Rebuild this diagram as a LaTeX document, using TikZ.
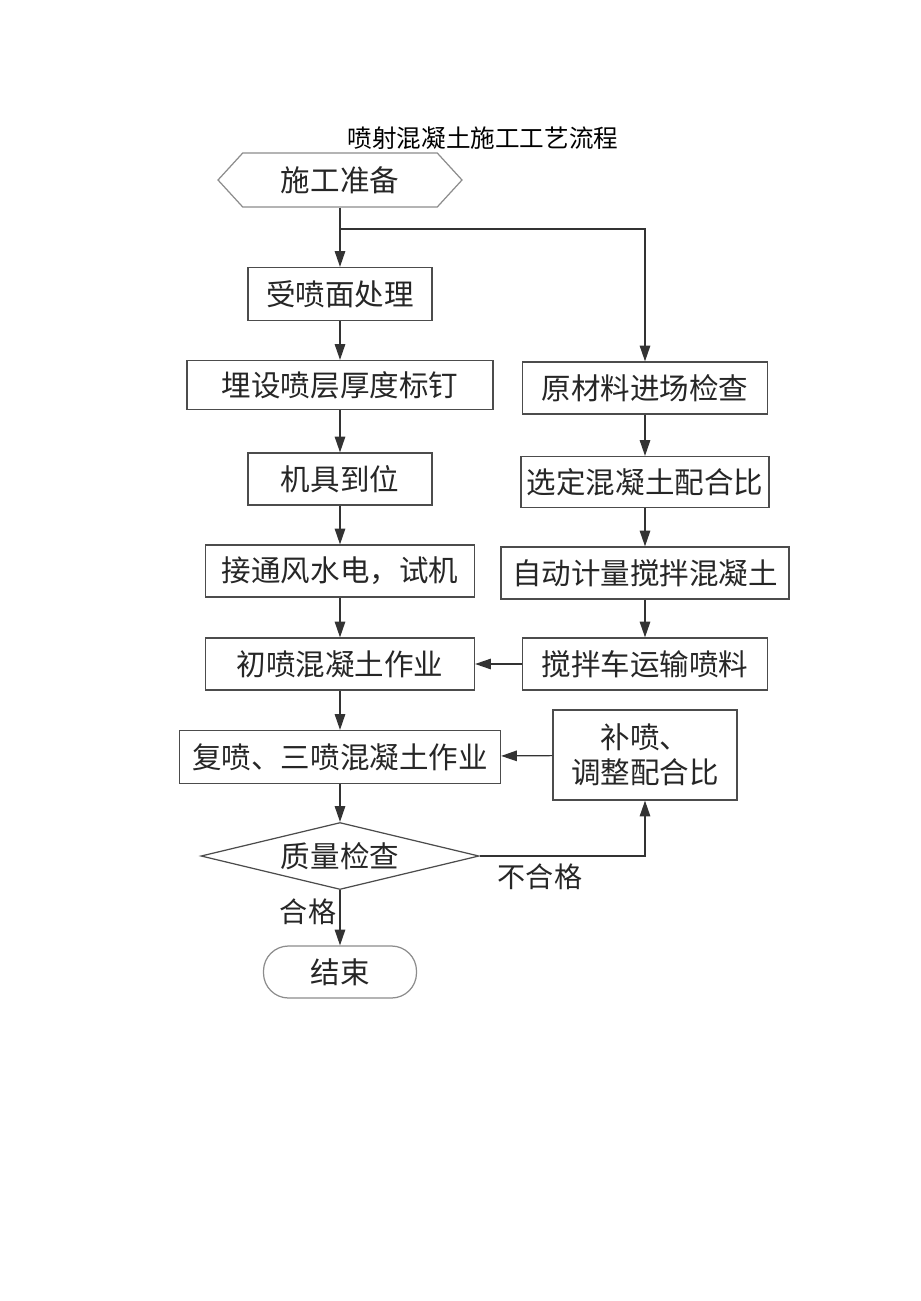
\documentclass[tikz,border=0pt]{standalone}
\usepackage{fontspec}
\setmainfont{Noto Sans CJK SC}
\usepackage{tikz}
\usetikzlibrary{arrows.meta,shapes.geometric,shapes.symbols,shapes.misc}

\begin{document}
\begin{tikzpicture}[x=0.02cm,y=-0.02cm,
  box/.style={draw=black!70,line width=0.7pt,rectangle,inner sep=0pt,
    font=\fontsize{16.8pt}{20pt}\selectfont,text=black!85},
  arr/.style={draw=black!80,line width=0.7pt,-{Triangle[length=9pt,width=6pt]}},
  lbl/.style={inner sep=0pt,font=\fontsize{16pt}{19pt}\selectfont,text=black!85}]
  \useasboundingbox (0,0) rectangle (920,1301);
  % title
  \node[inner sep=0pt,font=\fontsize{14pt}{17pt}\selectfont] (title) at (483,138) {喷射混凝土施工工艺流程};
  % left column
  \node[box,draw=black!45,signal,signal to=west and east,signal pointer angle=95,
    minimum width=244*0.02cm,minimum height=54*0.02cm] (prep) at (340,180) {施工准备};
  \node[box,minimum width=184*0.02cm,minimum height=53*0.02cm] (surf) at (340,294) {受喷面处理};
  \node[box,minimum width=306*0.02cm,minimum height=49*0.02cm] (nail) at (340,385) {埋设喷层厚度标钉};
  \node[box,minimum width=184*0.02cm,minimum height=52*0.02cm] (mach) at (340,479) {机具到位};
  \node[box,minimum width=269*0.02cm,minimum height=52*0.02cm] (power) at (340,571) {接通风水电，试机};
  \node[box,minimum width=269*0.02cm,minimum height=52*0.02cm] (first) at (340,664) {初喷混凝土作业};
  \node[box,minimum width=321*0.02cm,minimum height=53*0.02cm] (again) at (340,757) {复喷、三喷混凝土作业};
  \node[box,diamond,aspect=4.15,minimum width=278*0.02cm,minimum height=67*0.02cm] (check) at (340,856) {质量检查};
  \node[box,draw=black!45,rounded corners=25*0.02cm,minimum width=153*0.02cm,
    minimum height=52*0.02cm] (end) at (340,972) {结束};
  % right column
  \node[box,minimum width=245*0.02cm,minimum height=52*0.02cm] (raw) at (645,388) {原材料进场检查};
  \node[box,minimum width=248*0.02cm,minimum height=51*0.02cm] (mix) at (645,482) {选定混凝土配合比};
  \node[box,minimum width=288*0.02cm,minimum height=52*0.02cm] (auto) at (645,573) {自动计量搅拌混凝土};
  \node[box,minimum width=245*0.02cm,minimum height=52*0.02cm] (truck) at (645,664) {搅拌车运输喷料};
  \node[box,align=center,minimum width=184*0.02cm,minimum height=90*0.02cm] (fix) at (645,755) {补喷、\\调整配合比};
  % branch point
  \coordinate (split) at (340,229);
  \draw[draw=black!80,line width=0.7pt] (prep.south) -- (split);
  \draw[arr] (split) -- (surf.north);
  \draw[arr] (split) -| (raw.north);
  % main flow
  \draw[arr] (surf) -- (nail);
  \draw[arr] (nail) -- (mach);
  \draw[arr] (mach) -- (power);
  \draw[arr] (power) -- (first);
  \draw[arr] (first) -- (again);
  \draw[arr] (again) -- (check.north);
  \draw[arr] (check.south) -- (end);
  % material flow
  \draw[arr] (raw) -- (mix);
  \draw[arr] (mix) -- (auto);
  \draw[arr] (auto) -- (truck);
  \draw[arr] (truck) -- (first);
  \draw[arr] (fix) -- (again);
  \draw[arr] (check.east) -| (fix.south);
  % labels
  \node[lbl] (ok) at (308,912) {合格};
  \node[lbl] (bad) at (540,877) {不合格};
\end{tikzpicture}
\end{document}
